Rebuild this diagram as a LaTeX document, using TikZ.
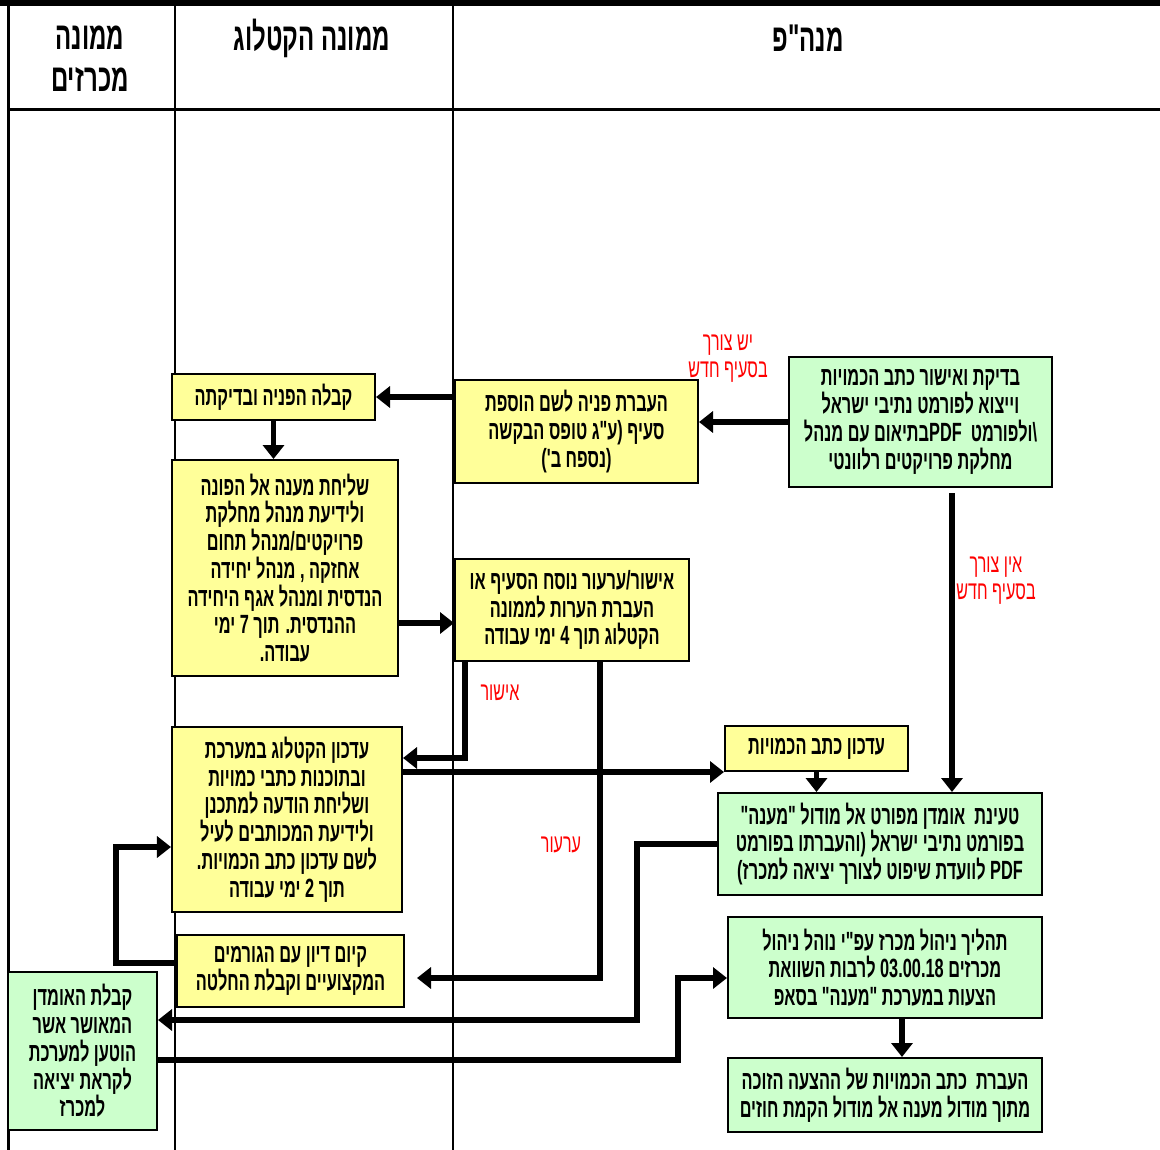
\documentclass[tikz,border=0pt]{standalone}
\usepackage{fontspec}
\setmainfont{Liberation Sans}[Script=Hebrew,FakeStretch=0.62,Ligatures=TeXOff]
\usetikzlibrary{arrows.meta}
\TeXXeTstate=1
\newcommand{\heb}[1]{\beginR#1\endR}
\definecolor{boxyellow}{HTML}{FFFF99}
\definecolor{boxgreen}{HTML}{CCFFCC}

\begin{document}
\begin{tikzpicture}[x=0.2mm, y=-0.2mm,
		flowbox/.style={draw, line width=0.4mm, align=center, inner sep=1pt,
			font=\bfseries\fontsize{15}{15.8}\selectfont},
		ybox/.style={flowbox, fill=boxyellow},
		gbox/.style={flowbox, fill=boxgreen},
		lane/.style={align=center, font=\bfseries\fontsize{22}{23.8}\selectfont},
		cond/.style={align=center, text=red, font=\fontsize{14.8}{15.3}\selectfont},
		arr/.style={draw, line width=1.1mm, -{Triangle[length=2.8mm, width=4.2mm]}}
	]
	\useasboundingbox (0,0) rectangle (1160,1150);
	\draw[line width=1.2mm] (0,3) -- (1160,3);
	\draw[line width=0.6mm] (8,3) -- (8,1150) (8,109) -- (1160,109);
	\draw[line width=0.4mm] (175,3) -- (175,1150) (453,3) -- (453,1150);
	\draw
		(90,59) node [lane] (hdrbids) {\heb{ממונה}\\\heb{מכרזים}}
		(312,38) node [lane] (hdrcat) {\heb{ממונה הקטלוג}}
		(808,38) node [lane] (hdrpm) {\heb{מנה"פ}}
		(273.5,397) node [ybox, minimum width=40.6mm, minimum height=9.2mm] (recv)
			{\heb{קבלה הפניה ובדיקתה}}
		(285,568) node [ybox, minimum width=45.2mm, minimum height=43.2mm] (reply)
			{\heb{שליחת מענה אל הפונה}\\\heb{ולידיעת מנהל מחלקת}\\\heb{פרויקטים/מנהל תחום}\\\heb{אחזקה , מנהל יחידה}\\\heb{הנדסית ומנהל אגף היחידה}\\\heb{ההנדסית. תוך 7 ימי}\\\heb{עבודה.}}
		(576.5,431.5) node [ybox, minimum width=48.6mm, minimum height=20.6mm] (transfer)
			{\heb{העברת פניה לשם הוספת}\\\heb{סעיף (ע"ג טופס הבקשה}\\\heb{(נספח ב')}}
		(920.5,422) node [gbox, minimum width=52.6mm, minimum height=26mm] (check)
			{\heb{בדיקת ואישור כתב הכמויות}\\\heb{וייצוא לפורמט נתיבי ישראל}\\\heb{\textbackslash ולפורמט\ \ \beginL PDF\endL{}בתיאום עם מנהל}\\\heb{מחלקת פרויקטים רלוונטי}}
		(572,610) node [ybox, minimum width=46.8mm, minimum height=20.4mm] (approve)
			{\heb{אישור/ערעור נוסח הסעיף או}\\\heb{העברת הערות לממונה}\\\heb{הקטלוג תוך 4 ימי עבודה}}
		(287,819.5) node [ybox, minimum width=46mm, minimum height=37mm] (update)
			{\heb{עדכון הקטלוג במערכת}\\\heb{ובתוכנות כתבי כמויות}\\\heb{ושליחת הודעה למתכנן}\\\heb{ולידיעת המכותבים לעיל}\\\heb{לשם עדכון כתב הכמויות.}\\\heb{תוך 2 ימי עבודה}}
		(290.5,971) node [ybox, minimum width=45.4mm, minimum height=14.4mm] (discuss)
			{\heb{קיום דיון עם הגורמים}\\\heb{המקצועיים וקבלת החלטה}}
		(816.5,748.5) node [ybox, minimum width=36.6mm, minimum height=9mm] (boq)
			{\heb{עדכון כתב הכמויות}}
		(880,844) node [gbox, minimum width=64.8mm, minimum height=20.4mm] (load)
			{\heb{טעינת\ \ אומדן מפורט אל מודול "מענה"}\\\heb{בפורמט נתיבי ישראל (והעברתו בפורמט}\\\heb{\beginL PDF\endL{} לוועדת שיפוט לצורך יציאה למכרז)}}
		(885,967.5) node [gbox, minimum width=62.8mm, minimum height=20.2mm] (tender)
			{\heb{תהליך ניהול מכרז עפ"י נוהל ניהול}\\\heb{מכרזים \beginL 03.00.18\endL{} לרבות השוואת}\\\heb{הצעות במערכת "מענה" בסאפ}}
		(885,1095) node [gbox, minimum width=62.8mm, minimum height=14.8mm] (contract)
			{\heb{העברת\ \ כתב הכמויות של ההצעה הזוכה}\\\heb{מתוך מודול מענה אל מודול הקמת חוזים}}
		(82.5,1051) node [gbox, minimum width=29.8mm, minimum height=31.6mm] (estimate)
			{\heb{קבלת האומדן}\\\heb{המאושר אשר}\\\heb{הוטען למערכת}\\\heb{לקראת יציאה}\\\heb{למכרז}}
		(728,359) node [cond] (needyes) {\heb{יש צורך}\\\heb{בסעיף חדש}}
		(996,581) node [cond] (needno) {\heb{אין צורך}\\\heb{בסעיף חדש}}
		(500,693) node [cond] (okay) {\heb{אישור}}
		(561,845) node [cond] (appeal) {\heb{ערעור}}
		;
	\path
		(transfer.west |- recv.east) edge [arr] (recv.east)
		(check.west) edge [arr] (check.west -| transfer.east)
		(recv.south) edge [arr] (recv.south |- reply.north)
		([yshift=-2.6mm]approve.west -| reply.east) edge [arr] ([yshift=-2.6mm]approve.west)
		(update.east |- boq.south west) edge [arr] (boq.south west)
		(boq.south) edge [arr] (boq.south |- load.north)
		([xshift=6.3mm, yshift=-1mm]check.south) edge [arr] ([xshift=6.3mm]check.south |- load.north)
		([xshift=3.4mm]tender.south) edge [arr] ([xshift=3.4mm]tender.south |- contract.north)
		;
	\draw[arr] ([xshift=2.2mm]approve.south west) |- ([yshift=12.3mm]update.east);
	\draw[arr, shorten >=2.4mm] ([xshift=-18mm]approve.south east) |- ([yshift=-1.4mm]discuss.east);
	\draw[arr] (load.west) -- ++(-80,0) |- ([yshift=6.2mm]estimate.east);
	\draw[arr] ([yshift=-1.8mm]estimate.east) -- ++(520,0) |- ([yshift=-2.1mm]tender.west);
	\draw[arr] ([yshift=1.6mm]discuss.west) -- ++(-60,0) |- ([yshift=-5.5mm]update.west);
\end{tikzpicture}
\end{document}
